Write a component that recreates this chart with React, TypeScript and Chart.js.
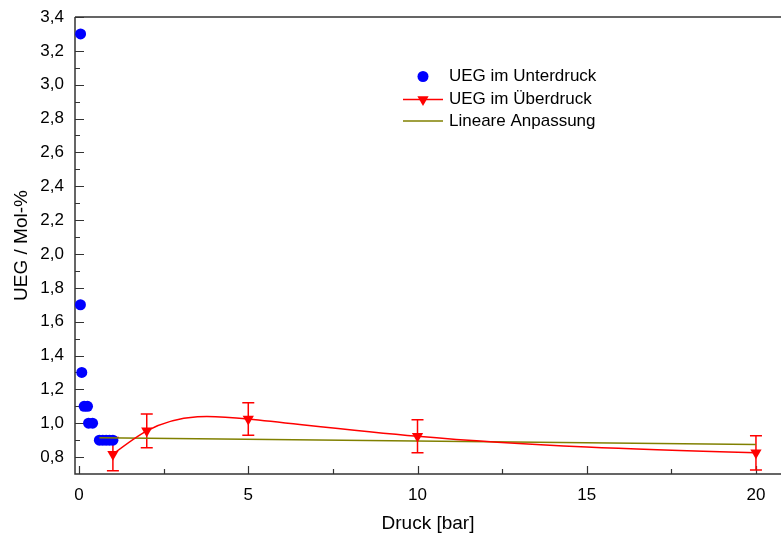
import React, { useEffect, useRef } from 'react';
import { Chart, registerables } from 'chart.js';

Chart.register(...registerables);

// ---- data ----
const unterdruckX = [0.045, 0.04, 0.08, 0.15, 0.25, 0.28, 0.4, 0.6, 0.7, 0.8, 0.9, 1.0];
const unterdruckY = [3.3, 1.7, 1.3, 1.1, 1.1, 1.0, 1.0, 0.9, 0.9, 0.9, 0.9, 0.9];
const ueberdruckX = [1, 2, 5, 10, 20];
const ueberdruckY = [0.817, 0.955, 1.025, 0.923, 0.825];
const ueberdruckErr = [0.098, 0.1, 0.096, 0.097, 0.101];
const fitX = [0.6, 20];
const fitY = [0.914, 0.874];

const xMajorTicks = [0, 5, 10, 15, 20];
const xMinorTicks = [2.5, 7.5, 12.5, 17.5];
const xTickLabels = ['0', '5', '10', '15', '20'];
const yMajorTicks = [0.8, 1.0, 1.2, 1.4, 1.6, 1.8, 2.0, 2.2, 2.4, 2.6, 2.8, 3.0, 3.2, 3.4];
const yMinorTicks = [0.9, 1.1, 1.3, 1.5, 1.7, 1.9, 2.1, 2.3, 2.5, 2.7, 2.9, 3.1, 3.3];
const yTickLabels = ['0,8', '1,0', '1,2', '1,4', '1,6', '1,8', '2,0', '2,2', '2,4', '2,6', '2,8', '3,0', '3,2', '3,4'];

const labels = ['UEG im Unterdruck', 'UEG im Überdruck', 'Lineare Anpassung'];
const xTitle = 'Druck [bar]';
const yTitle = 'UEG / Mol-%';

const BLUE = '#0000ff';
const RED = '#ff0000';
const OLIVE = '#808000';
const AXIS = '#333333';
const FONT = '"Liberation Sans", Arial, Helvetica, sans-serif';

function downTriangle(ctx: CanvasRenderingContext2D, cx: number, cy: number, r: number) {
  ctx.beginPath();
  ctx.moveTo(cx - r * 0.866, cy - r * 0.5);
  ctx.lineTo(cx + r * 0.866, cy - r * 0.5);
  ctx.lineTo(cx, cy + r);
  ctx.closePath();
  ctx.fill();
}

// Natural cubic spline handles for the line element's bezier segments
function applyNaturalSpline(points: any[]) {
  const n = points.length;
  if (n < 3) return;
  const xs = points.map((p) => p.x);
  const ys = points.map((p) => p.y);
  const h: number[] = [];
  for (let i = 0; i < n - 1; i++) h.push(xs[i + 1] - xs[i]);
  const M = new Array(n).fill(0);
  const a: number[] = [], b: number[] = [], c: number[] = [], d: number[] = [];
  for (let i = 1; i < n - 1; i++) {
    a.push(h[i - 1]);
    b.push(2 * (h[i - 1] + h[i]));
    c.push(h[i]);
    d.push(6 * ((ys[i + 1] - ys[i]) / h[i] - (ys[i] - ys[i - 1]) / h[i - 1]));
  }
  const m = b.length;
  for (let i = 1; i < m; i++) {
    const w = a[i] / b[i - 1];
    b[i] -= w * c[i - 1];
    d[i] -= w * d[i - 1];
  }
  const sol = new Array(m).fill(0);
  sol[m - 1] = d[m - 1] / b[m - 1];
  for (let i = m - 2; i >= 0; i--) sol[i] = (d[i] - c[i] * sol[i + 1]) / b[i];
  for (let i = 0; i < m; i++) M[i + 1] = sol[i];
  for (let i = 0; i < n - 1; i++) {
    const hi = h[i];
    const s = (ys[i + 1] - ys[i]) / hi;
    const d0 = s - (hi * (2 * M[i] + M[i + 1])) / 6;
    const d1 = s + (hi * (M[i] + 2 * M[i + 1])) / 6;
    points[i].cp2x = xs[i] + hi / 3;
    points[i].cp2y = ys[i] + (d0 * hi) / 3;
    points[i + 1].cp1x = xs[i + 1] - hi / 3;
    points[i + 1].cp1y = ys[i + 1] - (d1 * hi) / 3;
  }
  points[0].cp1x = xs[0];
  points[0].cp1y = ys[0];
  points[n - 1].cp2x = xs[n - 1];
  points[n - 1].cp2y = ys[n - 1];
}

const framePlugin = {
  id: 'frame',
  beforeDatasetDraw(chart: any, args: any) {
    if (args.index !== 1) return;
    const line = args.meta.dataset;
    if (line && line.updateControlPoints) {
      line.updateControlPoints(chart.chartArea, 'x');
      applyNaturalSpline(line.points);
      line._path = undefined;
    }
  },
  beforeDatasetsDraw(chart: any) {
    const { ctx, chartArea: a, scales } = chart;
    const xs = scales.x;
    const ys = scales.y;
    ctx.save();
    ctx.strokeStyle = AXIS;
    ctx.lineWidth = 1.5;
    ctx.beginPath();
    ctx.moveTo(a.left, a.top);
    ctx.lineTo(a.right, a.top);
    ctx.moveTo(a.left, a.top);
    ctx.lineTo(a.left, a.bottom);
    ctx.lineTo(a.right, a.bottom);
    ctx.stroke();
    ctx.lineWidth = 1.2;
    ctx.beginPath();
    yMajorTicks.forEach((v) => {
      const p = Math.round(ys.getPixelForValue(v)) + 0.5;
      ctx.moveTo(a.left, p);
      ctx.lineTo(a.left + 9, p);
    });
    yMinorTicks.forEach((v) => {
      const p = Math.round(ys.getPixelForValue(v)) + 0.5;
      ctx.moveTo(a.left, p);
      ctx.lineTo(a.left + 5, p);
    });
    xMajorTicks.forEach((v) => {
      const p = Math.round(xs.getPixelForValue(v)) + 0.5;
      ctx.moveTo(p, a.bottom);
      ctx.lineTo(p, a.bottom - 8);
    });
    xMinorTicks.forEach((v) => {
      const p = Math.round(xs.getPixelForValue(v)) + 0.5;
      ctx.moveTo(p, a.bottom);
      ctx.lineTo(p, a.bottom - 5);
    });
    ctx.stroke();

    // error bars
    ctx.strokeStyle = RED;
    ctx.lineWidth = 1.5;
    ctx.beginPath();
    ueberdruckX.forEach((xv, i) => {
      const px = xs.getPixelForValue(xv);
      const top = ys.getPixelForValue(ueberdruckY[i] + ueberdruckErr[i]);
      const bot = ys.getPixelForValue(ueberdruckY[i] - ueberdruckErr[i]);
      ctx.moveTo(px, top);
      ctx.lineTo(px, bot);
      ctx.moveTo(px - 6, top);
      ctx.lineTo(px + 6, top);
      ctx.moveTo(px - 6, bot);
      ctx.lineTo(px + 6, bot);
    });
    ctx.stroke();
    ctx.restore();
  },
  afterDraw(chart: any) {
    const { ctx } = chart;
    const ds = chart.data.datasets;
    ctx.save();
    ctx.font = `17px ${FONT}`;
    ctx.textBaseline = 'middle';
    ctx.textAlign = 'left';
    const lx1 = 403;
    const lx2 = 443;
    const cx = 423;
    const tx = 449;
    const rows = [76.5, 99.5, 121];
    ctx.fillStyle = BLUE;
    ctx.beginPath();
    ctx.arc(cx, rows[0], 5.5, 0, Math.PI * 2);
    ctx.fill();
    ctx.strokeStyle = RED;
    ctx.lineWidth = 1.5;
    ctx.beginPath();
    ctx.moveTo(lx1, rows[1]);
    ctx.lineTo(lx2, rows[1]);
    ctx.stroke();
    ctx.fillStyle = RED;
    downTriangle(ctx, cx, rows[1], 6.5);
    ctx.strokeStyle = OLIVE;
    ctx.beginPath();
    ctx.moveTo(lx1, rows[2]);
    ctx.lineTo(lx2, rows[2]);
    ctx.stroke();
    ctx.fillStyle = '#000';
    ctx.fillText(ds[0].label, tx, rows[0]);
    ctx.fillText(ds[1].label, tx, rows[1]);
    ctx.fillText(ds[2].label, tx, rows[2]);
    ctx.restore();
  },
};

export default function App() {
  const ref = useRef<HTMLCanvasElement | null>(null);
  useEffect(() => {
    const canvas = ref.current;
    if (!canvas) return;
    const chart = new Chart(canvas, {
      type: 'scatter',
      data: {
        datasets: [
          {
            label: labels[0],
            data: unterdruckX.map((x, i) => ({ x, y: unterdruckY[i] })),
            showLine: false,
            pointStyle: 'circle',
            pointRadius: 5.5,
            pointBackgroundColor: BLUE,
            pointBorderWidth: 0,
            borderColor: BLUE,
            backgroundColor: BLUE,
            clip: false,
            order: 3,
          },
          {
            label: labels[1],
            data: ueberdruckX.map((x, i) => ({ x, y: ueberdruckY[i] })),
            showLine: true,
            tension: 0.4,
            borderColor: RED,
            borderWidth: 1.5,
            pointStyle: 'triangle',
            rotation: 180,
            pointRadius: 6.5,
            pointBackgroundColor: RED,
            pointBorderColor: RED,
            pointBorderWidth: 0,
            backgroundColor: RED,
            clip: false,
            order: 1,
          },
          {
            label: labels[2],
            data: fitX.map((x, i) => ({ x, y: fitY[i] })),
            showLine: true,
            tension: 0,
            borderColor: OLIVE,
            borderWidth: 1.5,
            pointRadius: 0,
            backgroundColor: OLIVE,
            order: 2,
          },
        ],
      },
      options: {
        animation: false,
        responsive: false,
        maintainAspectRatio: false,
        layout: { autoPadding: false, padding: { top: 17, right: 0, bottom: 0, left: 0 } },
        plugins: {
          legend: { display: false },
          tooltip: { enabled: false },
        },
        scales: {
          x: {
            type: 'linear',
            min: -0.12,
            max: 20.74,
            afterBuildTicks: (s: any) => {
              s.ticks = xMajorTicks.map((v) => ({ value: v }));
            },
            afterFit: (s: any) => {
              s.height = 65;
              s.paddingLeft = 0;
              s.paddingRight = 0;
            },
            ticks: {
              autoSkip: false,
              maxRotation: 0,
              padding: 11,
              color: '#000',
              font: { family: FONT, size: 17 },
              callback: (_v: any, i: number) => xTickLabels[i],
            },
            grid: { display: false, drawTicks: false },
            border: { display: false },
            title: {
              display: true,
              text: xTitle,
              color: '#000',
              font: { family: FONT, size: 19 },
              padding: { top: 0, bottom: 4 },
            },
          },
          y: {
            type: 'linear',
            min: 0.7,
            max: 3.4,
            afterBuildTicks: (s: any) => {
              s.ticks = yMajorTicks.map((v) => ({ value: v }));
            },
            afterFit: (s: any) => {
              s.width = 75;
              s.paddingTop = 0;
              s.paddingBottom = 0;
            },
            ticks: {
              autoSkip: false,
              padding: 11,
              color: '#000',
              font: { family: FONT, size: 17 },
              callback: (_v: any, i: number) => yTickLabels[i],
            },
            grid: { display: false, drawTicks: false },
            border: { display: false },
            title: {
              display: true,
              text: yTitle,
              color: '#000',
              font: { family: FONT, size: 19 },
              padding: { top: 10, bottom: 0 },
            },
          },
        },
      },
      plugins: [framePlugin],
    } as any);
    return () => chart.destroy();
  }, []);

  return (
    <div style={{ position: 'fixed', left: 0, top: 0, width: 781, height: 539, background: '#fff' }}>
      <canvas ref={ref} width={781} height={539} style={{ width: 781, height: 539, display: 'block' }} />
    </div>
  );
}
